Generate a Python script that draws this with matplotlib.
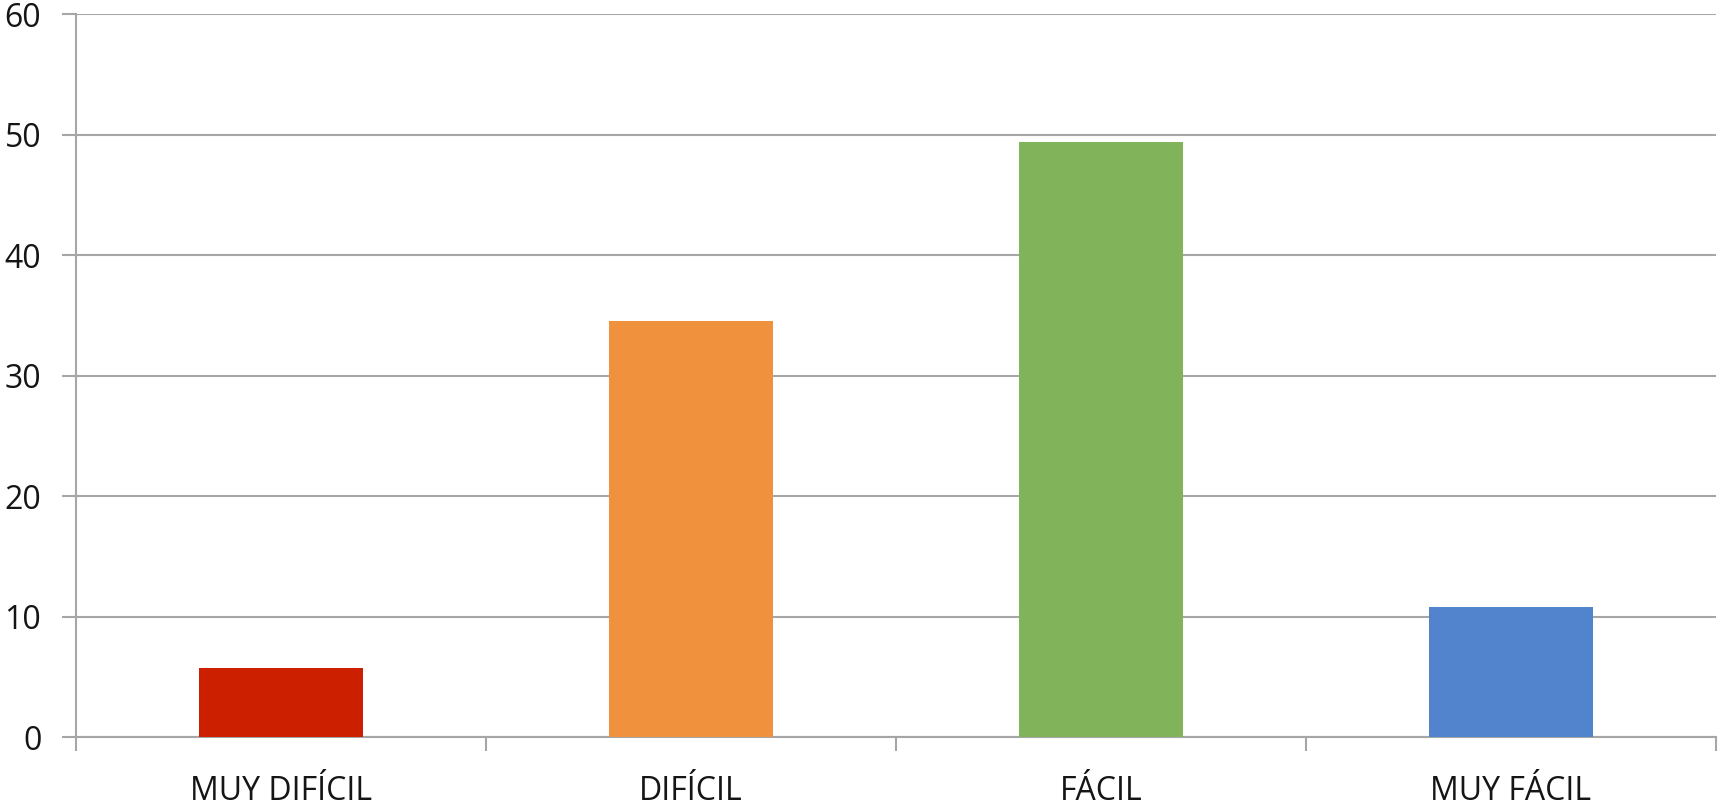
import matplotlib
matplotlib.use("Agg")
import matplotlib.pyplot as plt
import numpy as np

categories = ["MUY DIFÍCIL", "DIFÍCIL", "FÁCIL", "MUY FÁCIL"]
values = [5.7, 34.5, 49.4, 10.8]
colors = ["#CC1F00", "#EF913D", "#80B35A", "#5283CD"]
yticks = [0, 10, 20, 30, 40, 50, 60]

plt.rcParams["font.family"] = ["Open Sans", "DejaVu Sans"]
grid_c = "#A6A6A6"

fig = plt.figure(figsize=(17.19, 8.06), dpi=100)
ax = fig.add_axes([0.0442, 0.0856, 0.9540, 0.8970])

x = np.arange(len(categories))
ax.bar(x, values, width=0.4, color=colors, zorder=3)

ax.set_xlim(-0.5, len(categories) - 0.5)
ax.set_ylim(0, 60)
ax.set_yticks(yticks)
ax.set_xticks(x)
ax.set_xticklabels(categories)
ax.set_xticks(np.arange(len(categories) + 1) - 0.5, minor=True)

ax.grid(axis="y", color=grid_c, linewidth=1.5, zorder=0)
for s in ["top", "right"]:
    ax.spines[s].set_visible(False)
for s in ["left", "bottom"]:
    ax.spines[s].set_color(grid_c)
    ax.spines[s].set_linewidth(1.5)

ax.tick_params(axis="y", length=10, width=1.5, color=grid_c, pad=15,
               labelsize=23, labelcolor="#151515")
ax.tick_params(axis="x", which="major", length=0, pad=27,
               labelsize=23, labelcolor="#151515")
ax.tick_params(axis="x", which="minor", length=10, width=1.5, color=grid_c)

fig.savefig("out.png", dpi=100)
